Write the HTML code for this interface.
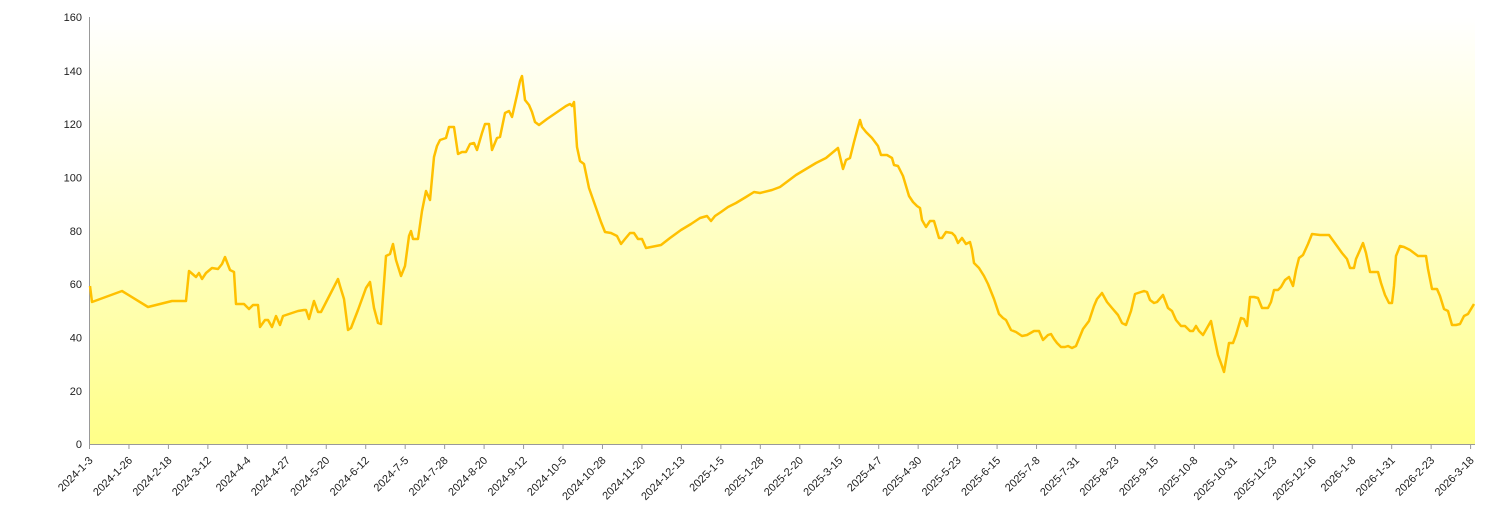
<!DOCTYPE html>
<html><head><meta charset="utf-8"><style>
html,body{margin:0;padding:0;background:#fff;width:1500px;height:523px;overflow:hidden}
svg text{font-family:"Liberation Sans",sans-serif;font-size:11px;fill:#222}
</style></head><body>
<svg width="1500" height="523" xmlns="http://www.w3.org/2000/svg">
<defs><linearGradient id="g" x1="0" y1="0" x2="0" y2="1"><stop offset="0" stop-color="#ffffff"/><stop offset="1" stop-color="#ffff88"/></linearGradient></defs>
<rect x="90" y="17" width="1385" height="427" fill="url(#g)"/>
<line x1="89.5" y1="17" x2="89.5" y2="444" stroke="#999"/>
<line x1="89.5" y1="444.5" x2="1475" y2="444.5" stroke="#999"/>
<g text-anchor="end">
<text x="82" y="448">0</text><text x="82" y="395">20</text><text x="82" y="341.5">40</text><text x="82" y="288">60</text><text x="82" y="235">80</text><text x="82" y="181.5">100</text><text x="82" y="128">120</text><text x="82" y="75">140</text><text x="82" y="21">160</text>
</g>
<g id="xt"></g>
<polyline fill="none" stroke="#ffc000" stroke-width="2.5" stroke-linejoin="round" points="90,286 92,302 122,291 148,307 172,301 186,301 189,271 196,277 199,273 202,279 206,273 212,268 218,269 222,264 225,257 230,270 234,272 236,304 244,304 249,309 253,305 258,305 260,327 265,320 268,320 272,327 276,316 280,325 283,316 298,311 304,310 306,310 309,319 314,301 318,312 321,312 338,279 340,286 344,299 348,330 351,328 358,310 366,288 370,282 374,308 378,323 381,324 386,256 390,254 393,244 396,260 401,276 405,266 409,236 411,231 413,239 418,239 422,211 426,191 430,200 434,157 437,146 440,140 446,138 449,127 454,127 458,154 462,152 466,152 470,144 474,143 477,150 482,133 485,124 489,124 492,150 497,138 500,137 505,113 509,111 512,117 517,95 520,81 522,76 525,100 529,105 532,112 535,122 539,125 547,119 566,106 570,104 572,106 574,102 577,147 580,161 584,164 589,188 595,205 601,222 605,232 611,233 617,236 621,244 625,239 630,233 634,233 638,239 642,239 646,248 661,245 670,238 681,230 691,224 700,218 707,216 711,221 715,216 721,212 728,207 736,203 746,197 754,192 760,193 772,190 780,187 788,181 796,175 806,169 816,163 826,158 838,148 843,169 846,160 850,158 854,142 858,127 860,120 862,127 866,132 872,138 878,146 881,155 887,155 892,158 894,165 898,166 903,176 909,196 913,202 917,206 920,208 922,220 926,227 930,221 934,221 939,238 942,238 946,232 952,233 955,236 958,243 962,238 966,244 970,242 972,250 974,263 979,268 984,276 988,284 994,299 999,314 1003,318 1006,320 1011,330 1016,332 1022,336 1027,335 1034,331 1039,331 1043,340 1048,335 1051,334 1054,339 1057,343 1061,347 1065,347 1068,346 1072,348 1076,346 1083,329 1089,321 1094,306 1097,299 1102,293 1107,302 1112,308 1118,315 1122,323 1126,325 1131,311 1135,294 1141,292 1144,291 1147,292 1150,300 1154,303 1157,302 1163,295 1168,308 1172,311 1176,320 1181,326 1185,326 1190,331 1193,331 1196,326 1199,331 1203,335 1211,321 1214,336 1218,355 1222,366 1224,372 1229,343 1233,343 1236,335 1241,318 1244,319 1247,326 1250,297 1254,297 1258,298 1262,308 1268,308 1271,302 1274,290 1278,290 1281,287 1285,280 1289,277 1293,286 1296,270 1299,258 1303,255 1308,244 1312,234 1320,235 1329,235 1337,246 1342,253 1347,259 1350,268 1354,268 1356,259 1360,250 1363,243 1366,253 1370,272 1378,272 1381,283 1385,295 1389,303 1392,303 1394,286 1396,256 1400,246 1404,247 1410,250 1418,256 1426,256 1428,269 1432,289 1437,289 1440,296 1444,309 1448,311 1452,325 1456,325 1460,324 1464,316 1468,314 1474,304"/>
</svg>
<script>
var L=["2024-1-3","2024-1-26","2024-2-18","2024-3-12","2024-4-4","2024-4-27","2024-5-20","2024-6-12","2024-7-5","2024-7-28","2024-8-20","2024-9-12","2024-10-5","2024-10-28","2024-11-20","2024-12-13","2025-1-5","2025-1-28","2025-2-20","2025-3-15","2025-4-7","2025-4-30","2025-5-23","2025-6-15","2025-7-8","2025-7-31","2025-8-23","2025-9-15","2025-10-8","2025-10-31","2025-11-23","2025-12-16","2026-1-8","2026-1-31","2026-2-23","2026-3-18"];
var g=document.getElementById("xt"),s="";
for(var i=0;i<L.length;i++){var x=89.5+i*39.46;
s+='<line x1="'+x+'" y1="444" x2="'+x+'" y2="449" stroke="#999"/>';
s+='<text text-anchor="end" transform="translate('+(x+4)+',461) rotate(-45)">'+L[i]+'</text>';}
g.innerHTML=s;
</script>
</body></html>
